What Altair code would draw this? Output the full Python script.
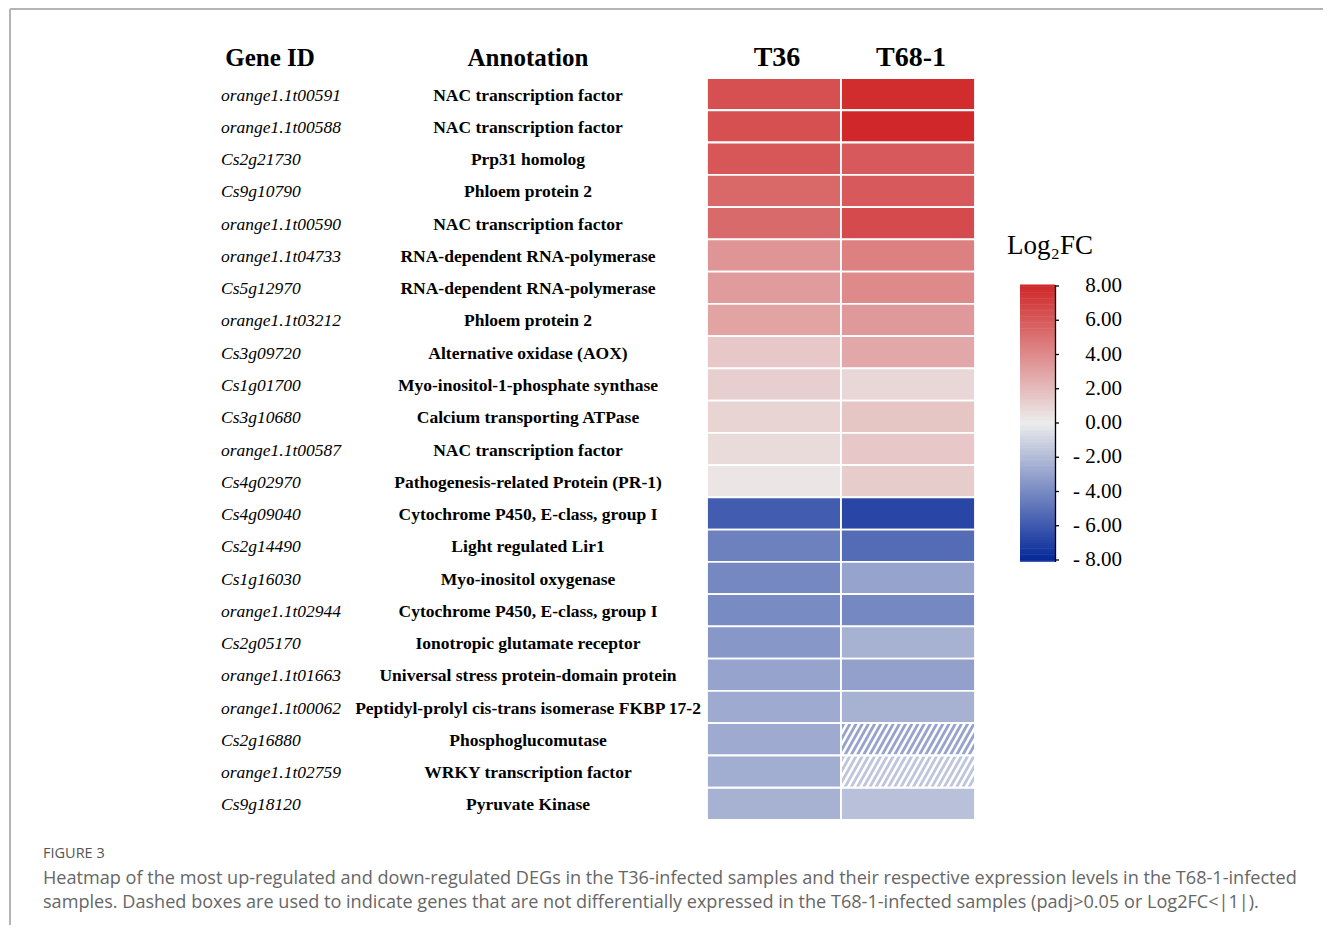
import altair as alt
import numpy as np
import pandas as pd

# ---------------- data ----------------
gene_ids = [
    "orange1.1t00591", "orange1.1t00588", "Cs2g21730", "Cs9g10790", "orange1.1t00590",
    "orange1.1t04733", "Cs5g12970", "orange1.1t03212", "Cs3g09720", "Cs1g01700",
    "Cs3g10680", "orange1.1t00587", "Cs4g02970", "Cs4g09040", "Cs2g14490",
    "Cs1g16030", "orange1.1t02944", "Cs2g05170", "orange1.1t01663", "orange1.1t00062",
    "Cs2g16880", "orange1.1t02759", "Cs9g18120",
]
annotations = [
    "NAC transcription factor", "NAC transcription factor", "Prp31 homolog",
    "Phloem protein 2", "NAC transcription factor", "RNA-dependent RNA-polymerase",
    "RNA-dependent RNA-polymerase", "Phloem protein 2", "Alternative oxidase (AOX)",
    "Myo-inositol-1-phosphate synthase", "Calcium transporting ATPase",
    "NAC transcription factor", "Pathogenesis-related Protein (PR-1)",
    "Cytochrome P450, E-class, group I", "Light regulated Lir1", "Myo-inositol oxygenase",
    "Cytochrome P450, E-class, group I", "Ionotropic glutamate receptor",
    "Universal stress protein-domain protein", "Peptidyl-prolyl cis-trans isomerase FKBP 17-2",
    "Phosphoglucomutase", "WRKY transcription factor", "Pyruvate Kinase",
]
log2fc_t36 = [6.4, 6.4, 6.1, 5.4, 5.3, 3.6, 3.3, 3.0, 1.5, 1.2, 1.0, 0.7, 0.3,
              -5.9, -4.4, -4.1, -4.0, -3.5, -3.0, -2.7, -2.7, -2.6, -2.4]
log2fc_t68 = [7.8, 8.0, 6.0, 6.0, 6.6, 4.4, 4.0, 3.4, 2.8, 0.9, 1.6, 1.5, 1.3,
              -6.8, -5.3, -3.0, -4.1, -2.4, -3.1, -2.4, -3.0, -1.6, -1.8]
samples = ["T36", "T68-1"]
not_de_t68 = ["Cs2g16880", "orange1.1t02759"]

legend_ticks = [8, 6, 4, 2, 0, -2, -4, -6, -8]
legend_labels = ["8.00", "6.00", "4.00", "2.00", "0.00", "- 2.00", "- 4.00", "- 6.00", "- 8.00"]

caption_title = "FIGURE 3"
caption_lines = [
    "Heatmap of the most up-regulated and down-regulated DEGs in the T36-infected samples and their respective expression levels in the T68-1-infected",
    "samples. Dashed boxes are used to indicate genes that are not differentially expressed in the T68-1-infected samples (padj>0.05 or Log2FC<|1|).",
]

# ---------------- tables ----------------
n = len(gene_ids)
cells = []
for i, g in enumerate(gene_ids):
    for j, (s, v) in enumerate(zip(samples, [log2fc_t36[i], log2fc_t68[i]])):
        cells.append({"gene": g, "sample": s, "row": i, "row2": i + 1,
                      "col": j, "col2": j + 1, "value": v})
cells_df = pd.DataFrame(cells)

rows_df = pd.DataFrame({"gene": gene_ids, "annotation": annotations,
                        "yc": [i + 0.5 for i in range(n)]})
head_df = pd.DataFrame({"sample": samples, "xc": [j + 0.5 for j in range(len(samples))]})

# hatch stripes for non-DE cells (white diagonal lines clipped to the cell)
cell_w_px, row_h_px = 134.0, 742.0 / 23
run_px, gap_px = 18.0, 6.2
stripes = []
for g in not_de_t68:
    r = gene_ids.index(g)
    c = samples.index("T68-1")
    for xb in np.arange(-run_px, cell_w_px + gap_px, gap_px):
        t0 = max(0.0, (0 - xb) / run_px)
        t1 = min(1.0, (cell_w_px - xb) / run_px)
        if t1 <= t0:
            continue
        xa, xbb = xb + run_px * t0, xb + run_px * t1
        ya, yb = row_h_px * (1 - t0), row_h_px * (1 - t1)
        stripes.append({"x": c + xa / cell_w_px, "x2": c + xbb / cell_w_px,
                        "y": r + ya / row_h_px, "y2": r + yb / row_h_px})
stripes_df = pd.DataFrame(stripes)

step = 0.05
bar_lo = np.arange(-8.1, 8.05, step)
bar_df = pd.DataFrame({"lo": bar_lo, "hi": bar_lo + step * 1.8, "value": bar_lo + step / 2})
ticks_df = pd.DataFrame({"tick": legend_ticks, "label": legend_labels})
edge_df = pd.DataFrame({"lo": [-8.12], "hi": [8.06]})

# ---------------- scales ----------------
xs = alt.Scale(domain=[0, 2], range=[699, 967], nice=False, zero=False)
ys = alt.Scale(domain=[0, 23], range=[70, 812], nice=False, zero=False)
ls = alt.Scale(domain=[-8, 8], range=[552, 278], nice=False, zero=False)
cs = alt.Scale(domain=[-8, 0, 8], range=["#06299a", "#ececec", "#d0282a"], interpolate="rgb")

serif = "Liberation Serif"

heat = alt.Chart(cells_df).mark_rect(stroke="white", strokeWidth=1.8).encode(
    x=alt.X("col:Q", scale=xs, axis=None),
    x2="col2:Q",
    y=alt.Y("row:Q", scale=ys, axis=None),
    y2="row2:Q",
    color=alt.Color("value:Q", scale=cs, legend=None),
)

hatch = alt.Chart(stripes_df).mark_rule(color="white", strokeWidth=2.6).encode(
    x=alt.X("x:Q", scale=xs, axis=None), x2="x2:Q",
    y=alt.Y("y:Q", scale=ys, axis=None), y2="y2:Q",
)

gene_txt = alt.Chart(rows_df).mark_text(
    align="left", baseline="middle", font=serif, fontSize=17.5, fontStyle="italic",
    color="black", dy=1.5
).encode(x=alt.value(213), y=alt.Y("yc:Q", scale=ys, axis=None), text="gene:N")

ann_txt = alt.Chart(rows_df).mark_text(
    align="center", baseline="middle", font=serif, fontSize=17.5, fontWeight="bold",
    color="black", dy=1.5
).encode(x=alt.value(520), y=alt.Y("yc:Q", scale=ys, axis=None), text="annotation:N")

h_gene = alt.Chart(pd.DataFrame({"t": ["Gene ID"]})).mark_text(
    align="center", baseline="alphabetic", font=serif, fontSize=25, fontWeight="bold", color="black"
).encode(x=alt.value(262), y=alt.value(58), text="t:N")

h_ann = alt.Chart(pd.DataFrame({"t": ["Annotation"]})).mark_text(
    align="center", baseline="alphabetic", font=serif, fontSize=25, fontWeight="bold", color="black"
).encode(x=alt.value(520), y=alt.value(58), text="t:N")

h_samp = alt.Chart(head_df).mark_text(
    align="center", baseline="alphabetic", font=serif, fontSize=28, fontWeight="bold",
    color="black", dx=3
).encode(x=alt.X("xc:Q", scale=xs, axis=None), y=alt.value(58), text="sample:N")

bar = alt.Chart(bar_df).mark_rect().encode(
    x=alt.value(1012), x2=alt.value(1047),
    y=alt.Y("lo:Q", scale=ls, axis=None), y2="hi:Q",
    color=alt.Color("value:Q", scale=cs, legend=None),
)

edge = alt.Chart(edge_df).mark_rule(color="black", strokeWidth=1.3).encode(
    x=alt.value(1047.5), y=alt.Y("lo:Q", scale=ls, axis=None), y2="hi:Q"
)

tick_marks = alt.Chart(ticks_df).mark_rule(color="black", strokeWidth=1.3).encode(
    x=alt.value(1047), x2=alt.value(1051), y=alt.Y("tick:Q", scale=ls, axis=None)
)

tick_labels = alt.Chart(ticks_df).mark_text(
    align="right", baseline="middle", font=serif, fontSize=21, color="black"
).encode(x=alt.value(1114), y=alt.Y("tick:Q", scale=ls, axis=None), text="label:N")

leg_title = alt.Chart(pd.DataFrame({"t": ["Log\u2082FC"]})).mark_text(
    align="left", baseline="alphabetic", font=serif, fontSize=27, color="black"
).encode(x=alt.value(999), y=alt.value(246), text="t:N")

frame_top = alt.Chart(pd.DataFrame({"k": [0]})).mark_rule(color="#b4b4b4", strokeWidth=2).encode(
    x=alt.value(2), x2=alt.value(1315), y=alt.value(1)
)
frame_left = alt.Chart(pd.DataFrame({"k": [0]})).mark_rule(color="#b4b4b4", strokeWidth=2).encode(
    x=alt.value(2), y=alt.value(1), y2=alt.value(917)
)

cap_title = alt.Chart(pd.DataFrame({"t": [caption_title]})).mark_text(
    align="left", baseline="middle", font="Open Sans", fontSize=14.5, color="#555555"
).encode(x=alt.value(35), y=alt.value(846), text="t:N")

cap_lines = alt.Chart(pd.DataFrame({"t": caption_lines, "yy": [871, 895]})).mark_text(
    align="left", baseline="middle", font="Open Sans", fontSize=18.1, color="#666666"
).encode(x=alt.value(35),
         y=alt.Y("yy:Q", scale=alt.Scale(domain=[0, 917], range=[0, 917], nice=False, zero=False), axis=None),
         text="t:N")

chart = alt.layer(
    frame_top, frame_left, heat, hatch, gene_txt, ann_txt, h_gene, h_ann, h_samp,
    bar, edge, tick_marks, tick_labels, leg_title, cap_title, cap_lines,
).resolve_scale(
    x="independent", y="independent"
).properties(
    width=1315, height=917, padding=0,
    autosize=alt.AutoSizeParams(type="none"),
    background="white",
).configure_view(stroke="transparent")

chart.save("out.html", embed_options={"renderer": "svg", "actions": False})
